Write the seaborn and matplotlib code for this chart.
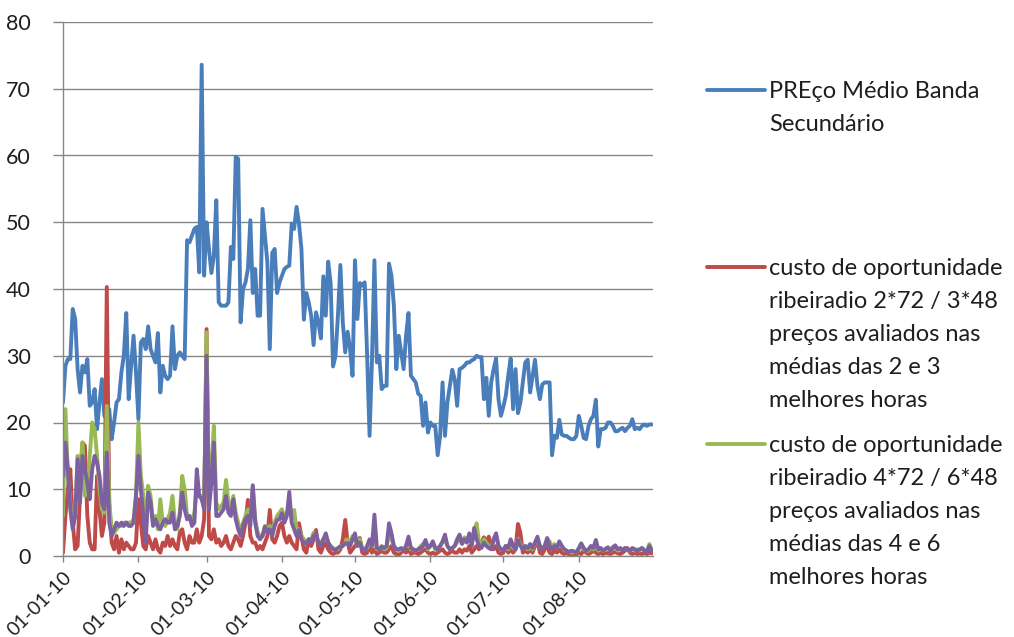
import matplotlib
matplotlib.use('Agg')
import matplotlib.pyplot as plt
import matplotlib.dates as mdate
from matplotlib.lines import Line2D
import seaborn as sns
import pandas as pd

# daily values, 01-01-2010 .. 31-08-2010 (one row per month in each list)
dias = pd.date_range('2010-01-01', '2010-08-31', freq='D')

preco_medio = [
    23, 28.5, 29.5, 29.5, 37, 35.5, 28, 24.5, 28.5, 27.5, 29.5, 22.5, 23, 25, 19, 23, 26.5, 21, 20.5, 22, 17.5, 20, 23, 23.5, 27.5, 30, 36.4, 23.5, 28.5, 33, 27.5,
    20.5, 32, 32.5, 31, 34.4, 31, 30, 29, 33.4, 24.5, 28.5, 27, 26.5, 27, 34.4, 28, 30, 30.5, 30, 29.5, 47.3, 47, 48, 49, 49.3, 42.5, 73.6, 42,
    50, 46, 42.4, 45, 53.3, 38, 37.5, 37.5, 37.5, 38, 46.3, 44.5, 59.8, 59.5, 35, 40, 41, 43, 50.3, 39.4, 43, 36, 36, 52, 48, 44, 31, 45.4, 46, 39.4, 41,
    42, 43, 43.3, 43.5, 49.8, 49, 52.3, 49.8, 46, 35.4, 39.4, 38, 36, 31.6, 36.5, 35, 32.6, 41.9, 36, 44.1, 40.9, 28.4, 30, 36, 43.6, 35, 30.5, 33.6, 31, 27,
    44.3, 35.5, 40.9, 40.5, 41, 30, 18, 29.5, 44.3, 29, 30, 25, 25.5, 25.5, 43.8, 42, 37.5, 28, 33, 30.5, 28, 33, 36.4, 27, 26.5, 26, 24.3, 24, 19.5, 23, 18.5,
    20, 19.5, 19.5, 15.1, 18, 26, 18, 23, 25.5, 27.9, 26.5, 22.5, 28, 28.2, 28.5, 29, 29, 29.3, 29.5, 30, 29.8, 29.8, 23.5, 26.7, 21, 26, 28, 29.6, 23.5, 21,
    22.4, 24, 27, 29.6, 22, 28, 21.4, 23, 26, 29, 29.4, 24.5, 27, 29.4, 25.5, 23.5, 25.7, 26, 26, 26, 15.1, 18, 17.7, 20.4, 18.2, 18, 18, 17.7, 17.5, 17.5, 18,
    21, 19.5, 17.7, 17.5, 19.5, 20.5, 21, 23.4, 16.4, 19, 19, 19.2, 20, 20, 19.5, 18.7, 18.7, 19, 19.2, 18.7, 19.2, 19.5, 20.5, 19, 19.2, 19, 19.5, 19.7, 19.5, 19.7, 19.7,
]

custo_2_3 = [
    0.5, 6, 10, 13, 5, 1, 1.5, 9, 17, 16.5, 6, 2, 1, 1, 12, 7, 3, 5, 40.3, 8, 2, 1, 3, 0.5, 2.5, 1, 2, 1.5, 1, 1, 2,
    8.5, 5, 1.5, 1, 3, 2, 1, 2.5, 1, 0.5, 2, 1.5, 3, 1.5, 2.5, 1.5, 1, 3.5, 4, 2, 1, 3, 2, 2, 4, 2, 3, 5.5,
    34, 3, 2.5, 4, 2, 2.5, 1.5, 2, 3, 1.5, 1, 2, 3, 2.5, 1.5, 3, 5, 8.4, 3, 2, 2, 1, 1.5, 1, 2, 3, 6.9, 2.5, 2, 3, 4.5,
    5, 3, 2, 3, 2, 1.5, 1, 4.9, 3, 1, 0.5, 2.5, 1.5, 2.5, 3.9, 1, 0.5, 1.5, 2, 1, 0.5, 0.3, 0.5, 0.5, 1, 2.5, 5.4, 2, 0.5, 1,
    1.5, 2, 2.7, 0.5, 0.3, 0.5, 1.5, 0.5, 1, 0.3, 0.5, 0.8, 0.5, 0.5, 1, 1.5, 0.5, 0.3, 0.2, 0.5, 0.8, 0.5, 1, 0.3, 0.5, 0.5, 0.3, 0.5, 0.8, 1, 0.5,
    0.3, 0.5, 0.3, 0.5, 0.8, 1, 0.5, 0.3, 0.5, 0.8, 0.5, 0.5, 1, 0.5, 1, 0.8, 1.5, 0.5, 1, 1.5, 1, 2, 2.8, 2, 2.9, 1.5, 1, 1.5, 0.5, 0.3,
    0.5, 1.5, 0.5, 1, 0.5, 1, 4.8, 3.5, 0.5, 0.8, 0.5, 1, 0.5, 1.5, 2.5, 0.5, 0.3, 1, 1.5, 0.5, 0.3, 0.8, 0.5, 1, 0.5, 0.3, 0.5, 0.2, 0.3, 0.3, 0.2,
    0.5, 0.3, 0.8, 0.5, 0.3, 0.5, 0.8, 0.5, 0.3, 0.5, 0.3, 0.5, 0.4, 0.3, 0.5, 0.6, 0.4, 0.3, 0.5, 0.8, 1.2, 0.5, 0.3, 0.5, 0.3, 0.4, 0.3, 0.5, 0.3, 0.5, 0.4,
]

custo_4_6 = [
    6, 22, 12, 8, 4.5, 6, 15, 13, 17, 9, 10, 15, 20, 19, 15, 10, 7, 6.5, 22.5, 8, 4, 3.5, 4, 4.5, 4.5, 5, 5, 5, 5, 5.5, 9,
    20, 12, 9, 3, 10.5, 9, 5, 6, 4, 8.5, 5, 4.5, 5.5, 6.5, 9, 5, 4, 6.5, 12, 10, 6, 6, 5, 6.5, 10, 9, 9, 7.5,
    33.5, 8, 13, 19.5, 8, 7, 7.5, 8, 11.4, 8, 7, 9, 6.5, 5, 3.5, 5, 6, 7, 5.5, 10.4, 5.5, 3.5, 3, 3, 4.5, 4, 4.5, 3.5, 5, 6, 6.5,
    7, 5.5, 6.5, 7, 5.5, 6.9, 4, 4, 3, 2.5, 2, 2.5, 2.5, 3.5, 3, 2, 2, 2.5, 3, 2, 1.5, 1.2, 1, 1, 1.5, 1.5, 2, 2.5, 2, 3,
    2.5, 1.5, 2.5, 1.2, 1, 1.2, 2, 1.5, 3, 1, 1, 1.5, 1, 1.2, 3.5, 2.5, 1.5, 1, 0.8, 1, 1, 1.5, 2.5, 1, 1, 0.8, 1, 1.5, 1.8, 2.2, 1,
    1.5, 2, 1, 1.2, 1.5, 2, 2.5, 1.5, 1, 1.2, 1.5, 2, 2.5, 2, 2.8, 2.5, 3, 2, 3.5, 4.9, 2, 1.5, 2.5, 2, 1.5, 1.2, 2.5, 3, 1.5, 1,
    1, 1.5, 1, 2, 1.2, 1, 2.5, 1.8, 1.2, 1.5, 1, 1.5, 1, 2, 2.5, 1.5, 1.2, 1.5, 2.5, 2.2, 1.2, 1.8, 1.2, 2, 1.5, 1, 0.8, 0.6, 0.5, 0.6, 0.5,
    1, 1.5, 1, 0.8, 0.8, 1.2, 1, 1.5, 0.8, 1, 0.8, 0.9, 1.2, 0.8, 1.4, 1.2, 0.8, 1, 1, 1.2, 1, 0.8, 1, 0.8, 1, 0.8, 1.2, 0.8, 0.8, 1.8, 0.9,
]

# fourth series (purple), its legend entry is cut off in the original
custo_4 = [
    12, 17, 13, 7, 4, 6, 14.5, 8, 15, 13, 11, 8.5, 13, 15, 14, 12, 8, 7, 15.5, 5, 3, 4, 5, 4.5, 5, 4.5, 5, 4.5, 4.5, 5, 9,
    15, 10, 6, 2, 9.5, 8, 4.5, 5.5, 4.5, 4, 5, 5.5, 5, 5, 6.5, 4, 4.5, 6, 9.5, 7, 5.5, 6, 4.5, 5, 13, 9, 8.5, 7,
    30, 7, 11, 17, 6, 6, 6.5, 7, 9, 6.5, 6, 8.5, 5.5, 4, 3, 4.5, 5.5, 6, 4.5, 10.6, 5, 3, 2.5, 3, 4.4, 3.5, 4, 3, 4.5, 5.4, 5.5,
    6.4, 5, 6, 9.6, 5, 4, 3, 3.9, 2.5, 2, 1.9, 2.5, 2, 3, 3.4, 2, 1.5, 2.5, 3.4, 2, 1.4, 1, 0.9, 1.2, 1.4, 1.5, 1.9, 1.9, 1.5, 2.5,
    3.4, 1.5, 2, 1, 0.8, 1.5, 2.5, 1.5, 6.2, 1.2, 1, 1.4, 1.2, 1.5, 4.9, 3.4, 1.5, 1, 1, 1.2, 0.8, 1.5, 2.9, 1.2, 1, 0.8, 1, 1.2, 1.5, 2.4, 1.2,
    1.5, 2.2, 1.2, 1, 1.5, 2.2, 3.2, 1.5, 1, 1.2, 1.5, 2.5, 3.2, 1.8, 2.5, 2, 3.4, 1.5, 4.2, 2.5, 1.5, 1.2, 2, 1.5, 1.2, 1, 2.5, 3.4, 1.5, 1,
    0.8, 1.5, 1.2, 2.5, 1.5, 1, 2.4, 1.5, 1, 1.5, 1.2, 1.8, 1.2, 2, 2.9, 1.5, 1, 1.5, 2.7, 1.5, 1, 1.5, 1.2, 2.2, 1.5, 1, 0.8, 0.6, 0.8, 0.7, 0.5,
    1.2, 1.9, 1.2, 0.8, 1, 1.5, 1.2, 2.4, 1, 1.2, 0.8, 1.1, 1.3, 0.8, 1.2, 1.6, 1, 1.2, 0.8, 1.2, 1, 0.8, 1.2, 1, 0.8, 1, 1.2, 0.8, 0.6, 1.5, 0.8,
]

series_names = ['preco', 'custo_2_3', 'custo_4_6', 'custo_4']
cores = ['#4a7ebb', '#be4b48', '#98b954', '#7d60a0']
legend_labels = [
    ['PREço Médio Banda', 'Secundário'],
    ['custo de oportunidade', 'ribeiradio 2*72 / 3*48', 'preços avaliados nas', 'médias das 2 e 3', 'melhores horas'],
    ['custo de oportunidade', 'ribeiradio 4*72 / 6*48', 'preços avaliados nas', 'médias das 4 e 6', 'melhores horas'],
]
y_ticks = [0, 10, 20, 30, 40, 50, 60, 70, 80]

if __name__ == '__main__':
    sns.set_style('white')
    plt.rcParams['font.family'] = ['Lato', 'DejaVu Sans']

    df = pd.DataFrame()
    for name, vals in zip(series_names, [preco_medio, custo_2_3, custo_4_6, custo_4]):
        part = pd.DataFrame({'data': dias, 'valor': vals, 'serie': name})
        df = pd.concat([df, part], ignore_index=True)

    fig = plt.figure(figsize=(10.14, 6.37), dpi=100)
    ax = fig.add_axes([63 / 1014, 1 - 556 / 637, 590 / 1014, 534 / 637])

    sns.lineplot(data=df, x='data', y='valor', hue='serie', palette=dict(zip(series_names, cores)),
                 linewidth=2.8, legend=False, ax=ax)

    ax.set_xlim(dias[0], dias[-1] + pd.Timedelta(hours=12))
    ax.set_ylim(0, 80)
    ax.set_yticks(y_ticks)
    ax.xaxis.set_major_locator(mdate.MonthLocator())
    ax.xaxis.set_major_formatter(mdate.DateFormatter('%d-%m-%y'))
    ax.set_xlabel('')
    ax.set_ylabel('')

    ax.yaxis.grid(True, color='#868686', linewidth=1.0)
    ax.xaxis.grid(False)
    for s in ['top', 'right']:
        ax.spines[s].set_visible(False)
    for s in ['left', 'bottom']:
        ax.spines[s].set_color('#868686')
        ax.spines[s].set_linewidth(1.0)

    ax.tick_params(axis='y', left=True, length=7, width=1.0, color='#868686', pad=16,
                   labelsize=15.5, labelcolor='#1e1e1e')
    ax.tick_params(axis='x', bottom=True, length=4, width=1.0, color='#868686', pad=5,
                   labelsize=14, labelcolor='#1e1e1e')
    for lbl in ax.get_xticklabels():
        lbl.set_rotation(45)
        lbl.set_ha('right')
        lbl.set_va('top')
        lbl.set_rotation_mode('anchor')

    # legend on the right, handle level with the first line of each entry
    first_rows = [90, 267, 444]
    for cor, linhas, y0 in zip(cores, legend_labels, first_rows):
        fig.add_artist(Line2D([707 / 1014, 765 / 1014], [1 - y0 / 637, 1 - y0 / 637],
                              color=cor, linewidth=2.8, transform=fig.transFigure))
        for i, txt in enumerate(linhas):
            fig.text(769 / 1014, 1 - (y0 + 8 + i * 33) / 637, txt, fontsize=17,
                     color='#1e1e1e', ha='left', va='baseline')

    fig.savefig('out.png', dpi=100)
